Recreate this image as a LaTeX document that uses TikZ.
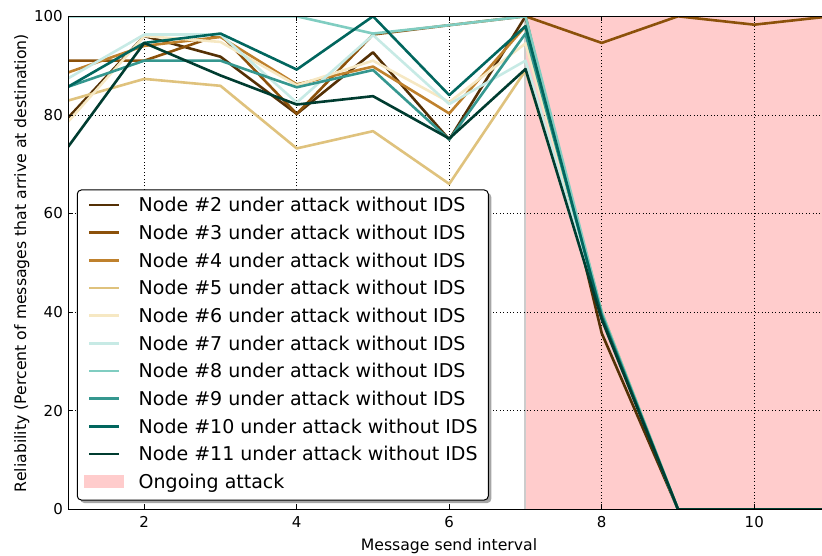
\documentclass[tikz,border=0pt]{standalone}
\usepackage{fontspec}
\setmainfont{DejaVu Sans}
\definecolor{c2}{RGB}{84,48,5}
\definecolor{c3}{RGB}{140,81,10}
\definecolor{c4}{RGB}{191,129,45}
\definecolor{c5}{RGB}{223,194,125}
\definecolor{c6}{RGB}{246,232,195}
\definecolor{c7}{RGB}{199,234,229}
\definecolor{c8}{RGB}{128,205,193}
\definecolor{c9}{RGB}{53,151,143}
\definecolor{c10}{RGB}{1,102,94}
\definecolor{c11}{RGB}{0,60,48}
\definecolor{spanpink}{RGB}{255,204,204}
\definecolor{shadowgray}{RGB}{166,166,166}
\begin{document}
\begin{tikzpicture}[x=1pt,y=1pt,
  dataline/.style={line width=2.6pt, line join=round},
  gridline/.style={black, line width=0.7pt, dash pattern=on 0.8pt off 2.6pt},
  tickmark/.style={black, line width=0.6pt},
  ticklabel/.style={inner sep=0pt, font=\fontsize{15}{15}\selectfont},
  axislabel/.style={inner sep=0pt, font=\fontsize{15.7}{15.7}\selectfont},
  legendtext/.style={inner sep=0pt, anchor=base west, text=black, font=\fontsize{19}{19}\selectfont},
  legendline/.style={line width=2.6pt}]
\useasboundingbox (0,0) rectangle (822,555);
\begin{scope}[x=76.25pt, y=4.93pt, shift={(-8.25pt,45.7pt)}]
  \begin{scope}
    \clip (1,0) rectangle (11,100);
    \fill[spanpink] (7,0) rectangle (11,100);
    \draw[black!20, line width=1.4pt] ([xshift=-0.7pt]7,0) -- ([xshift=-0.7pt]7,100);
    \foreach \gx in {2,4,6,8,10} \draw[gridline] (\gx,0) -- (\gx,100);
    \foreach \gy in {20,40,60,80} \draw[gridline] (1,\gy) -- (11,\gy);
    \draw[dataline,c2] plot coordinates {(1,79.4) (2,96.0) (3,91.8) (4,80.2) (5,92.7) (6,75.0) (7,100) (8,35.7) (9,0) (10,0) (11,0)};
    \draw[dataline,c3] plot coordinates {(1,91.0) (2,91.0) (3,96.3) (4,80.2) (5,96.3) (6,98.2) (7,100) (8,94.6) (9,100) (10,98.3) (11,100)};
    \draw[dataline,c4] plot coordinates {(1,88.6) (2,94.0) (3,95.8) (4,86.2) (5,89.8) (6,80.3) (7,98.0) (8,40.0) (9,0) (10,0) (11,0)};
    \draw[dataline,c5] plot coordinates {(1,82.9) (2,87.3) (3,85.9) (4,73.2) (5,76.7) (6,66.0) (7,89.0) (8,39.5) (9,0) (10,0) (11,0)};
    \draw[dataline,c6] plot coordinates {(1,78.6) (2,96.0) (3,94.8) (4,86.0) (5,91.0) (6,82.6) (7,94.5) (8,40.0) (9,0) (10,0) (11,0)};
    \draw[dataline,c7] plot coordinates {(1,87.4) (2,96.3) (3,96.3) (4,82.5) (5,96.2) (6,82.2) (7,91.0) (8,39.5) (9,0) (10,0) (11,0)};
    \draw[dataline,c8] plot coordinates {(1,100) (2,100) (3,100) (4,100) (5,96.5) (6,98.2) (7,100) (8,40.0) (9,0) (10,0) (11,0)};
    \draw[dataline,c9] plot coordinates {(1,85.7) (2,91.0) (3,91.0) (4,85.6) (5,89.1) (6,75.0) (7,96.5) (8,39.5) (9,0) (10,0) (11,0)};
    \draw[dataline,c10] plot coordinates {(1,85.7) (2,94.6) (3,96.5) (4,89.2) (5,100) (6,84.0) (7,98.0) (8,39.0) (9,0) (10,0) (11,0)};
    \draw[dataline,c11] plot coordinates {(1,73.5) (2,94.6) (3,88.0) (4,82.1) (5,83.8) (6,75.2) (7,89.3) (8,38.5) (9,0) (10,0) (11,0)};
  \end{scope}
  \draw[black, line width=1pt] (1,0) rectangle (11,100);
  \foreach \gx in {2,4,6,8,10} {
    \draw[tickmark] (\gx,0) -- ++(0,5pt);
    \draw[tickmark] (\gx,100) -- ++(0,-5pt);
    \node[ticklabel, anchor=base] (xt\gx) at ([yshift=-17.9pt]\gx,0) {\gx};
  }
  \foreach \gy in {0,20,40,60,80,100} {
    \draw[tickmark] (1,\gy) -- ++(5pt,0);
    \draw[tickmark] (11,\gy) -- ++(-5pt,0);
    \node[ticklabel, anchor=base east] (yt\gy) at ([xshift=-5pt,yshift=-5.5pt]1,\gy) {\gy};
  }
\end{scope}
\node[axislabel, anchor=base] (xlabel) at (449,5) {Message send interval};
\node[axislabel, anchor=base, rotate=90] (ylabel) at (26,292) {Reliability (Percent of messages that arrive at destination)};
% legend
\fill[shadowgray, rounded corners=4pt] (80.3,52) rectangle (491.3,362);
\draw[draw=black, fill=white, line width=1pt, rounded corners=4pt] (77.3,55) rectangle (488.3,365);
\foreach \n/\yy in {2/350,3/322.3,4/294.7,5/267,6/239.3,7/211.7,8/184,9/156.3,10/128.7,11/101} {
  \coordinate (la\n) at (89.3,\yy);
  \coordinate (lb\n) at (119.3,\yy);
  \draw[legendline, c\n] (la\n) -- (lb\n);
  \node[legendtext] (lt\n) at (138.5,\yy-6.8) {Node \#\n{} under attack without IDS};
}
\fill[spanpink] (84.3,66.7) rectangle (124,80);
\node[legendtext] (ltspan) at (138.5,66.5) {Ongoing attack};
\end{tikzpicture}
\end{document}
